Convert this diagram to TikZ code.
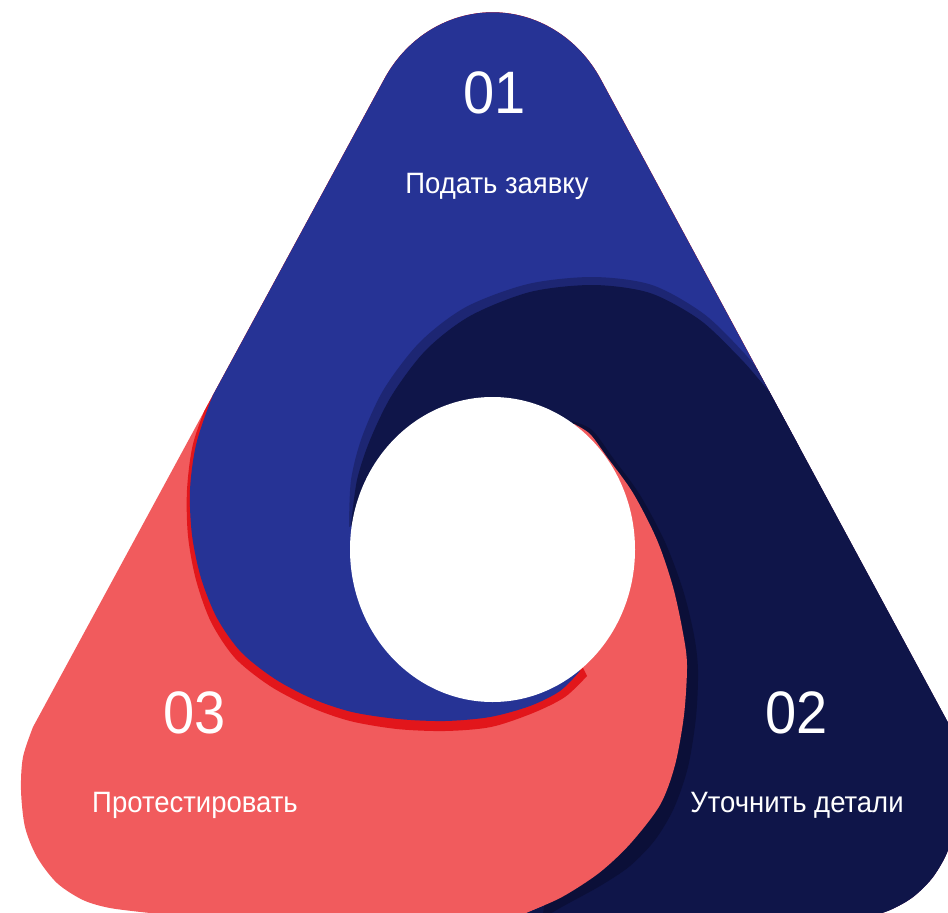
\documentclass[tikz,border=0pt]{standalone}
\usepackage{fontspec}
\setmainfont{Liberation Sans}
\definecolor{cblue}{RGB}{38,51,149}
\definecolor{cnavy}{RGB}{15,21,73}
\definecolor{cred}{RGB}{241,91,93}
\definecolor{credshadow}{RGB}{226,22,27}
\definecolor{cnavyband}{RGB}{29,38,115}
\definecolor{cdarkshadow}{RGB}{11,15,56}
\tikzset{
  numtext/.style={text=white, font=\fontsize{56}{60}\selectfont, anchor=base, inner sep=0pt},
  labtext/.style={text=white, font=\fontsize{27.5}{32}\selectfont, anchor=base, inner sep=0pt},
}
\begin{document}
\begin{tikzpicture}[x=1pt,y=-1pt]
\useasboundingbox (0,0) rectangle (948,913);
\fill[white] (0,0) rectangle (948,913);
\begin{scope}
\clip (0,0) rectangle (948,913);
\clip (384.2,79.2) arc[start angle=210,end angle=330,x radius=125,y radius=133.75]
  -- (946.6,720) -- (957.5,740)
  -- plot[smooth] coordinates {(956,775) (952,820) (948,850) (933,877) (913,897) (890,910) (860,920)}
  -- (180,925)
  -- plot[smooth] coordinates {(150,913) (110,908) (83,900) (57,883) (37,857) (25,827) (21,790) (23,757) (33,727)}
  -- cycle;
% red base
\fill[cred] (0,0) rectangle (948,913);
% blue segment with its red shadow
\fill[credshadow] plot[smooth] coordinates {(230,349) (209,399) (193,444) (187,490) (188,536) (196,580) (211,622) (235,658) (270,686) (310,707) (350,721) (397,729) (445,731) (491,727) (533,713) (565,697) (587,676)}
  -- (575,652) -- (610,560) -- (830,430) -- (830,-10) -- (-10,-10) -- (-10,300) -- cycle;
\fill[cblue] plot[smooth] coordinates {(232,352) (211,400) (196,445) (190,490) (192,535) (201,578) (217,618) (241,652) (275,679) (313,699) (352,712) (398,719) (445,721) (490,717) (530,706) (560,691) (580,671)}
  -- (570,650) -- (610,560) -- (830,430) -- (830,-10) -- (-10,-10) -- (-10,300) -- cycle;
% navy segment with its band
\fill[cnavyband] (574,424) -- (560,470) -- (450,480) -- (365,520)
  -- plot[smooth] coordinates {(349,527) (351,480) (362,437) (384,389) (420,342) (466,307) (528,284) (593,277) (652,285) (704,314) (745,354) (766,380) (795,414)}
  -- (1000,400) -- (1000,1000) -- (500,1000) -- (500,925)
  -- plot[smooth] coordinates {(526,913) (562,897) (599,873) (630,844) (660,805) (675,765) (684,715) (687,665) (683,633) (673,587) (657,540) (633,493) (607,457) (590,434) (574,424)}
  -- cycle;
\fill[cnavy] (574,424) -- (560,470) -- (450,480) -- (365,520)
  -- plot[smooth] coordinates {(351,525) (357,480) (370,440) (392,395) (426,350) (470,316) (530,292) (593,285) (650,293) (700,320) (740,358) (762,383) (792,418)}
  -- (1000,400) -- (1000,1000) -- (500,1000) -- (500,925)
  -- plot[smooth] coordinates {(526,913) (562,897) (599,873) (630,844) (660,805) (675,765) (684,715) (687,665) (683,633) (673,587) (657,540) (633,493) (607,457) (590,434) (574,424)}
  -- cycle;
% red crescent with its dark shadow
\fill[cdarkshadow] plot[smooth] coordinates {(572,421) (592,430) (613,458) (640,495) (665,542) (683,590) (694,635) (698,670) (696,717) (688,767) (674,808) (655,840) (630,866) (600,886) (560,908) (530,926)}
  -- (540,935) -- (545,900) -- (575,860) -- (610,810) -- (640,750) -- (650,690) -- (645,600) -- (620,520) -- (590,450) -- cycle;
\fill[cred] plot[smooth] coordinates {(574,424) (590,434) (607,457) (633,493) (657,540) (673,587) (683,633) (687,665) (684,715) (675,765) (660,805) (630,844) (599,873) (562,897) (526,913) (500,925)}
  -- (500,930) -- (620,720) -- (605,620) -- (560,470) -- cycle;
% hole
\fill[white] (492.5,549.5) ellipse[x radius=142.5, y radius=152.5];
\end{scope}
\node[numtext] (n1) at (495,113) {\scalebox{1}[1.07]{01}};
\node[labtext] (l1) at (497,193) {\scalebox{1}[1.07]{Подать заявку}};
\node[numtext] (n2) at (797,733) {\scalebox{1}[1.07]{02}};
\node[labtext] (l2) at (797,812) {\scalebox{1}[1.07]{Уточнить детали}};
\node[numtext] (n3) at (195,733) {\scalebox{1}[1.07]{03}};
\node[labtext] (l3) at (195,812) {\scalebox{1}[1.07]{Протестировать}};
\end{tikzpicture}
\end{document}
